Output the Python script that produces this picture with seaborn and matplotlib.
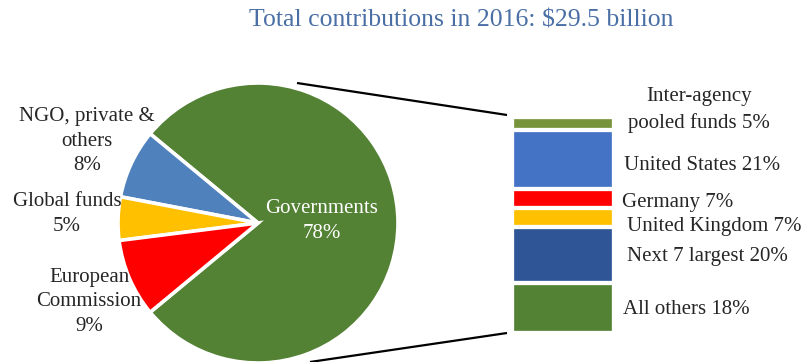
import matplotlib
matplotlib.use("Agg")
import matplotlib.pyplot as plt
import seaborn as sns

# Funding sources (share of total, %)
source_labels = ["Governments\n78%", "NGO, private &\nothers\n8%", "Global funds\n5%",
                 "European\nCommission\n9%"]
source_values = [78, 8, 5, 9]
source_colors = ["#548235", "#4F81BD", "#FFC000", "#FF0000"]

# Breakdown of the government share (%), top to bottom
gov_labels = ["Inter-agency\npooled funds 5%", "United States 21%", "Germany 7%",
              "United Kingdom 7%", "Next 7 largest 20%", "All others 18%"]
gov_values = [5, 21, 7, 7, 20, 18]
gov_colors = ["#77933C", "#4472C4", "#FF0000", "#FFC000", "#2F5597", "#548235"]

title = "Total contributions in 2016: $29.5 billion"

sns.set_theme(style="white")
plt.rcParams["font.family"] = ["Liberation Serif", "DejaVu Serif"]

W, H = 810, 362
fig = plt.figure(figsize=(W / 100, H / 100), dpi=100)

# Main canvas in pixel-like units (y measured upward)
ax = fig.add_axes([0, 0, 1, 1])
cx, cy, r = 258, H - 223, 140
wedges, _ = ax.pie(source_values, colors=source_colors, startangle=-140.4,
                   counterclock=True, center=(cx, cy), radius=r, frame=True,
                   wedgeprops=dict(edgecolor="white", linewidth=2.6))
ax.set_xlim(0, W)
ax.set_ylim(0, H)
ax.set_aspect("equal")
ax.axis("off")

# Connector lines from pie to the breakdown bar
ax.plot([297, 507], [H - 83, H - 115], color="black", lw=1.6, solid_capstyle="butt")
ax.plot([310, 507], [H - 362, H - 333], color="black", lw=1.6, solid_capstyle="butt")

fs = 15
ls = 1.42
txt = "#262626"
ax.text(322, H - 221, source_labels[0], color="white", ha="center", va="center",
        fontsize=fs, linespacing=ls)
ax.text(87, H - 141, source_labels[1], color=txt, ha="center", va="center",
        fontsize=fs, linespacing=ls)
ax.text(67, H - 214, source_labels[2], color=txt, ha="center", va="center",
        fontsize=fs, linespacing=ls)
ax.text(89, H - 302, source_labels[3], color=txt, ha="center", va="center",
        fontsize=fs, linespacing=ls)

fig.text(461 / W, 1 - 21 / H, title, color="#4A6FA5", ha="center", va="center",
         fontsize=18.5)

# Stacked breakdown bar: overlapping cumulative bars, drawn largest first
bx0, bx1, by0, by1 = 512, 614, 116.5, 332.5
bax = fig.add_axes([bx0 / W, 1 - by1 / H, (bx1 - bx0) / W, (by1 - by0) / H])
cum = []
total = 0
for v in gov_values:
    total += v
    cum.append(total)
for top, color in reversed(list(zip(cum, gov_colors))):
    sns.barplot(x=[0], y=[top], color=color, width=1.0, errorbar=None,
                edgecolor="white", linewidth=3.1, saturation=1, ax=bax)
bax.set_xlim(-0.5, 0.5)
bax.set_ylim(total, 0)
bax.axis("off")

# Labels beside the bar
label_pos = [(699, 110, "center"), (624, 165, "left"), (622, 203, "left"),
             (627, 227, "left"), (627, 257, "left"), (623, 310, "left")]
for (x, y, ha), lab in zip(label_pos, gov_labels):
    ax.text(x, H - y, lab, color=txt, ha=ha, va="center", fontsize=fs,
            linespacing=ls)

fig.savefig("out.png", dpi=100)
